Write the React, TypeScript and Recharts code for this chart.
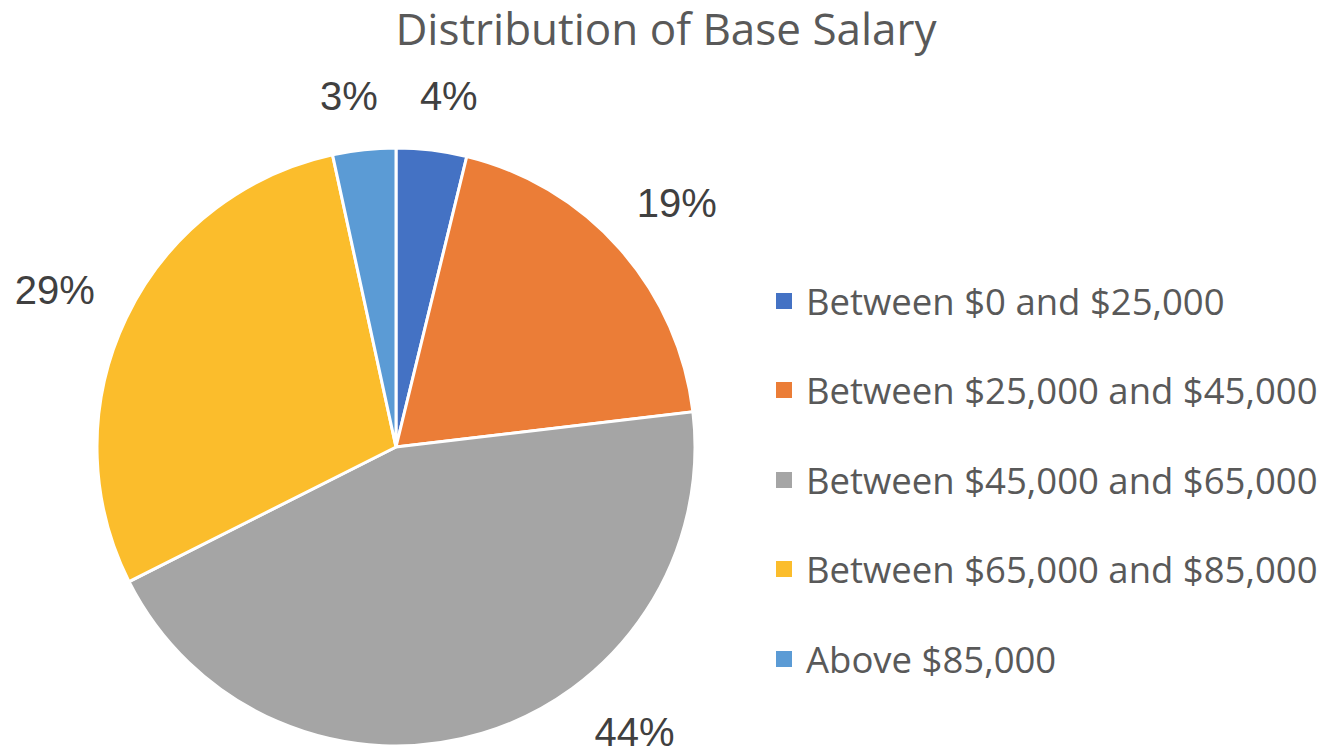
import { PieChart, Pie, Cell } from 'recharts';

const categories = [
  'Between $0 and $25,000',
  'Between $25,000 and $45,000',
  'Between $45,000 and $65,000',
  'Between $65,000 and $85,000',
  'Above $85,000',
];
const shares = [3.8, 19.3, 44.4, 29.0, 3.4];
const colors = ['#4472C4', '#EB7D37', '#A5A5A5', '#FBBD2C', '#5B9BD5'];

const RAD = Math.PI / 180;
const LABEL_FONT = 40;
const CHART_W = 1337;
const CHART_H = 753;

const chartData = categories.map((name, i) => ({ name, value: shares[i] }));

// outside-end labels, pushed clear of the pie and kept inside the bottom edge
const renderLabel = ({ cx, cy, midAngle, outerRadius, percent }: any) => {
  const text = `${Math.round(percent * 100)}%`;
  const digits = text.length - 1;
  const halfW = (LABEL_FONT * (0.556 * digits + 0.889)) / 2;
  const halfH = 14;
  const gap = 37;
  let ux = Math.cos(midAngle * RAD);
  let uy = -Math.sin(midAngle * RAD);
  // small slices near the top get nudged apart a little
  if (percent < 0.06) ux *= 1.25;
  let d = outerRadius + gap + Math.abs(ux) * halfW + Math.abs(uy) * halfH;
  let x = cx + d * ux;
  let y = cy + d * uy + 6 * Math.abs(ux);
  const maxY = CHART_H - 21;
  for (let k = 0; k < 3 && y > maxY; k++) {
    const dy = maxY - cy;
    const dx = Math.sqrt(Math.max(d * d - dy * dy, 0)) * (ux >= 0 ? 1 : -1);
    ux = dx / d;
    uy = dy / d;
    d = outerRadius + gap + Math.abs(ux) * halfW + Math.abs(uy) * halfH;
    x = cx + Math.sign(ux) * Math.sqrt(Math.max(d * d - dy * dy, 0));
    y = maxY;
  }
  return (
    <text
      x={x}
      y={y}
      fill="#404040"
      textAnchor="middle"
      dominantBaseline="central"
      style={{ fontFamily: '"Liberation Sans", Arial, sans-serif', fontSize: LABEL_FONT }}
    >
      {text}
    </text>
  );
};

const SalaryLegend = () => (
  <div style={{ position: 'absolute', left: 776, top: 256 }}>
    {categories.map((name, i) => (
      <div
        key={`leg-${i}`}
        style={{ height: 89.5, display: 'flex', alignItems: 'center' }}
      >
        <span
          style={{
            display: 'inline-block',
            width: 16,
            height: 16,
            background: colors[i],
            marginRight: 14,
          }}
        />
        <span
          style={{
            fontFamily: '"Open Sans", sans-serif',
            fontSize: 36.5,
            color: '#595959',
            whiteSpace: 'nowrap',
          }}
        >
          {name}
        </span>
      </div>
    ))}
  </div>
);

const App = () => {
  return (
    <div style={{ position: 'absolute', left: 0, top: 0, width: CHART_W, height: CHART_H, background: '#fff' }}>
      <div
        style={{
          position: 'absolute',
          left: 0,
          top: 0,
          width: 1332,
          textAlign: 'center',
          fontFamily: '"Open Sans", sans-serif',
          fontSize: 44,
          color: '#595959',
          lineHeight: '56px',
        }}
      >
        Distribution of Base Salary
      </div>
      <PieChart width={CHART_W} height={CHART_H} margin={{ top: 0, right: 0, bottom: 0, left: 0 }}>
        <Pie
          data={chartData}
          dataKey="value"
          nameKey="name"
          cx={396}
          cy={447}
          outerRadius={299}
          startAngle={90}
          endAngle={-270}
          stroke="#ffffff"
          strokeWidth={3}
          label={renderLabel}
          labelLine={false}
          isAnimationActive={false}
        >
          {chartData.map((_, i) => (
            <Cell key={`cell-${i}`} fill={colors[i]} />
          ))}
        </Pie>
      </PieChart>
      <SalaryLegend />
    </div>
  );
};

export default App;
